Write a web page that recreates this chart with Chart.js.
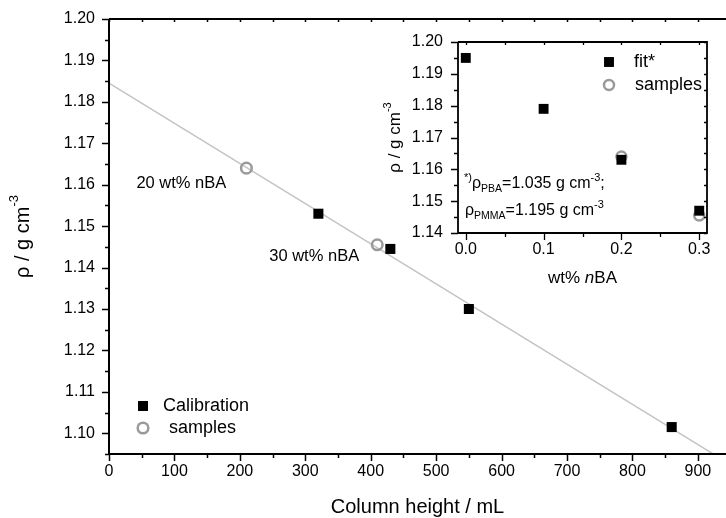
<!DOCTYPE html>
<html>
<head>
<meta charset="utf-8">
<script src="https://cdn.jsdelivr.net/npm/chart.js@4.4.1/dist/chart.umd.min.js"></script>
<style>
  body { margin: 0; background: #fff; }
  #wrap { position: relative; width: 726px; height: 518px; overflow: hidden; }
  #main { position: absolute; left: 0; top: 0; }
  #inset { position: absolute; left: 380px; top: 0; }
</style>
</head>
<body>
<div id="wrap">
  <canvas id="main" width="726" height="518"></canvas>
  <canvas id="inset" width="346" height="300"></canvas>
</div>
<script>
const FONT = "'Liberation Sans', Arial, Helvetica, sans-serif";
Chart.defaults.font.family = FONT;
Chart.defaults.color = '#000';

// main plot: density against column height
const heightTicks = [0, 100, 200, 300, 400, 500, 600, 700, 800, 900];
const densityTicks = [1.10, 1.11, 1.12, 1.13, 1.14, 1.15, 1.16, 1.17, 1.18, 1.19, 1.20];
const calibHeight = [320, 430, 550, 860];
const calibDensity = [1.153, 1.1445, 1.130, 1.1015];
const sampleHeight = [210, 410];
const sampleDensity = [1.164, 1.1455];
const sampleLabels = ['20 wt% nBA', '30 wt% nBA'];
const fitIntercept = 1.1845;
const fitSlope = -0.0000969;

// inset: density against nBA weight fraction
const fractionTicks = [0, 0.1, 0.2, 0.3];
const insetDensityTicks = [1.14, 1.15, 1.16, 1.17, 1.18, 1.19, 1.20];
const fitFraction = [0, 0.1, 0.2, 0.3];
const fitDensity = [1.195, 1.179, 1.163, 1.147];
const sampleFraction = [0.2, 0.3];

const HEIGHT_MAX = 943;

const pts = (xs, ys) => xs.map((x, i) => ({ x: x, y: ys[i] }));

// walk every minor step of a scale, flagging the major ones
function eachStep(scale, minor, major, fn) {
  const first = Math.ceil(scale.min / minor - 1e-6);
  for (let i = first; i * minor <= scale.max + 1e-9; i++) {
    const v = i * minor;
    fn(v, Math.abs(v / major - Math.round(v / major)) < 1e-6);
  }
}

// axis lines plus major/minor tick marks (Chart.js has no minor ticks)
const framePlugin = {
  id: 'frame',
  afterDatasetsDraw(chart, args, o) {
    const { ctx, chartArea: a } = chart;
    const xs = chart.scales.x, ys = chart.scales.y;
    ctx.save();
    ctx.strokeStyle = '#000';
    ctx.lineWidth = o.lineWidth;
    ctx.beginPath();
    ctx.moveTo(a.left, a.top);
    ctx.lineTo(a.left, a.bottom);
    ctx.lineTo(a.right, a.bottom);
    if (o.box) {
      ctx.lineTo(a.right, a.top);
      ctx.lineTo(a.left, a.top);
    } else {
      ctx.moveTo(a.left, a.top);
      ctx.lineTo(a.right, a.top);
    }
    ctx.stroke();

    ctx.lineWidth = o.tickWidth;
    ctx.beginPath();
    eachStep(xs, o.xMinor, o.xMajor, (v, major) => {
      const px = Math.round(xs.getPixelForValue(v)) + 0.5;
      ctx.moveTo(px, a.bottom);
      ctx.lineTo(px, a.bottom + (major ? o.majorLen : o.minorLen));
      ctx.moveTo(px, a.top);
      ctx.lineTo(px, a.top + o.innerLen);
    });
    eachStep(ys, o.yMinor, o.yMajor, (v, major) => {
      const py = Math.round(ys.getPixelForValue(v)) + 0.5;
      ctx.moveTo(a.left, py);
      ctx.lineTo(a.left - (major ? o.majorLen : o.minorLen), py);
      if (o.box) {
        ctx.moveTo(a.right, py);
        ctx.lineTo(a.right - o.innerLen, py);
      }
    });
    ctx.stroke();
    ctx.restore();
  }
};

// text made of runs with sub/superscripts; returns total width
function drawRuns(ctx, x, y, runs, measureOnly) {
  let w = 0;
  for (const r of runs) {
    ctx.font = (r.italic ? 'italic ' : '') + r.size + 'px ' + FONT;
    if (!measureOnly) ctx.fillText(r.t, x + w, y + (r.dy || 0));
    w += ctx.measureText(r.t).width;
  }
  return w;
}

function drawRunsCentered(ctx, cx, cy, runs) {
  const w = drawRuns(ctx, 0, 0, runs, true);
  drawRuns(ctx, cx - w / 2, cy, runs);
}

function legendEntry(ctx, ds, x, y, label, textX, size) {
  ctx.save();
  ctx.fillStyle = ds.backgroundColor;
  ctx.strokeStyle = ds.borderColor;
  ctx.lineWidth = ds.borderWidth;
  Chart.helpers.drawPoint(ctx, {
    pointStyle: ds.pointStyle, radius: ds.pointRadius,
    borderWidth: ds.borderWidth, rotation: 0
  }, x, y);
  ctx.restore();
  ctx.font = size + 'px ' + FONT;
  ctx.textAlign = 'left';
  ctx.textBaseline = 'middle';
  ctx.fillStyle = '#000';
  ctx.fillText(label, textX, y);
}

const densityTitle = (size, sup) => [
  { t: 'ρ / g cm', size: size },
  { t: '-3', size: sup, dy: -size * 0.42 }
];

const mainText = {
  id: 'mainText',
  afterDraw(chart) {
    const { ctx, chartArea: a } = chart;
    const xs = chart.scales.x, ys = chart.scales.y;
    const sets = chart.data.datasets;
    ctx.save();
    ctx.fillStyle = '#000';
    ctx.textBaseline = 'middle';
    ctx.textAlign = 'left';

    ctx.font = '20px ' + FONT;
    ctx.textAlign = 'center';
    ctx.fillText('Column height / mL', (a.left + a.right) / 2, 507);
    ctx.textAlign = 'left';

    ctx.save();
    ctx.translate(23, (a.top + a.bottom) / 2);
    ctx.rotate(-Math.PI / 2);
    drawRunsCentered(ctx, 0, 0, densityTitle(20, 13));
    ctx.restore();

    // sample labels, set below-left of each open circle
    const offsets = [[-110, 15], [-108, 12]];
    ctx.font = '16.5px ' + FONT;
    sampleLabels.forEach((txt, i) => {
      const px = xs.getPixelForValue(sampleHeight[i]);
      const py = ys.getPixelForValue(sampleDensity[i]);
      ctx.fillText(txt, px + offsets[i][0], py + offsets[i][1]);
    });

    legendEntry(ctx, sets[0], 143, 406, 'Calibration', 163, 18);
    legendEntry(ctx, sets[1], 143, 428, 'samples', 169, 18);
    ctx.restore();
  }
};

const insetText = {
  id: 'insetText',
  afterDraw(chart) {
    const { ctx, chartArea: a } = chart;
    const sets = chart.data.datasets;
    ctx.save();
    ctx.fillStyle = '#000';
    ctx.textBaseline = 'middle';

    ctx.save();
    ctx.translate(15, (a.top + a.bottom) / 2);
    ctx.rotate(-Math.PI / 2);
    drawRunsCentered(ctx, 0, 0, densityTitle(17, 11));
    ctx.restore();

    drawRunsCentered(ctx, (a.left + a.right) / 2, 278, [
      { t: 'wt% ', size: 17 },
      { t: 'n', size: 17, italic: true },
      { t: 'BA', size: 17 }
    ]);

    ctx.textBaseline = 'alphabetic';
    drawRuns(ctx, a.left + 6, 188, [
      { t: '*)', size: 11, dy: -7 },
      { t: 'ρ', size: 16 },
      { t: 'PBA', size: 10.5, dy: 4 },
      { t: '=1.035 g cm', size: 16 },
      { t: '-3', size: 11, dy: -7 },
      { t: ';', size: 16 }
    ]);
    drawRuns(ctx, a.left + 7, 215, [
      { t: 'ρ', size: 16 },
      { t: 'PMMA', size: 10.5, dy: 4 },
      { t: '=1.195 g cm', size: 16 },
      { t: '-3', size: 11, dy: -7 }
    ]);

    legendEntry(ctx, sets[0], 229, 62, 'fit*', 254, 18);
    legendEntry(ctx, sets[1], 229, 85, 'samples', 255, 18);
    ctx.restore();
  }
};

// pin axis sizes so the plot area lands where it should
const fixSize = (w, h) => s => {
  if (w !== null) s.width = w;
  if (h !== null) s.height = h;
  s.paddingTop = s.paddingBottom = s.paddingLeft = s.paddingRight = 0;
};

const noGrid = { display: false, drawTicks: false };

new Chart(document.getElementById('main'), {
  type: 'scatter',
  data: {
    datasets: [
      {
        label: 'Calibration',
        data: pts(calibHeight, calibDensity),
        pointStyle: 'rect', pointRadius: 7.1,
        backgroundColor: '#000', borderColor: '#000', borderWidth: 0
      },
      {
        label: 'samples',
        data: pts(sampleHeight, sampleDensity),
        pointStyle: 'circle', pointRadius: 5.3,
        backgroundColor: 'rgba(0,0,0,0)', borderColor: '#9a9a9a', borderWidth: 2.5
      },
      {
        label: 'fit',
        data: [
          { x: 0, y: fitIntercept },
          { x: HEIGHT_MAX, y: fitIntercept + fitSlope * HEIGHT_MAX }
        ],
        showLine: true, pointRadius: 0,
        borderColor: '#c4c4c4', borderWidth: 1.5
      }
    ]
  },
  options: {
    responsive: false,
    animation: false,
    events: [],
    layout: { autoPadding: false, padding: { top: 19, right: 0, left: 0, bottom: 0 } },
    plugins: {
      legend: { display: false },
      tooltip: { enabled: false },
      frame: {
        lineWidth: 2, tickWidth: 1.5, majorLen: 7, minorLen: 4, innerLen: 3,
        xMajor: 100, xMinor: 50, yMajor: 0.01, yMinor: 0.005, box: false
      }
    },
    scales: {
      x: {
        type: 'linear', min: 0, max: HEIGHT_MAX,
        grid: noGrid, border: { display: false },
        afterBuildTicks: s => { s.ticks = heightTicks.map(v => ({ value: v })); },
        ticks: { font: { size: 16 }, padding: 8, maxRotation: 0, callback: v => v.toFixed(0) },
        afterFit: fixSize(null, 64)
      },
      y: {
        type: 'linear', min: 1.095, max: 1.20,
        grid: noGrid, border: { display: false },
        afterBuildTicks: s => { s.ticks = densityTicks.map(v => ({ value: v })); },
        ticks: { font: { size: 16 }, padding: 14, callback: v => v.toFixed(2) },
        afterFit: fixSize(109, null)
      }
    }
  },
  plugins: [framePlugin, mainText]
});

new Chart(document.getElementById('inset'), {
  type: 'scatter',
  data: {
    datasets: [
      {
        label: 'fit*',
        data: pts(fitFraction, fitDensity),
        pointStyle: 'rect', pointRadius: 7,
        backgroundColor: '#000', borderColor: '#000', borderWidth: 0
      },
      {
        label: 'samples',
        data: pts(sampleFraction, sampleDensity),
        pointStyle: 'circle', pointRadius: 5,
        backgroundColor: 'rgba(0,0,0,0)', borderColor: '#9a9a9a', borderWidth: 2.5
      }
    ]
  },
  options: {
    responsive: false,
    animation: false,
    events: [],
    layout: { autoPadding: false, padding: { top: 42, right: 19, left: 0, bottom: 0 } },
    plugins: {
      legend: { display: false },
      tooltip: { enabled: false },
      frame: {
        lineWidth: 1.8, tickWidth: 1.3, majorLen: 7, minorLen: 4, innerLen: 3,
        xMajor: 0.1, xMinor: 0.05, yMajor: 0.01, yMinor: 0.005, box: true
      }
    },
    scales: {
      x: {
        type: 'linear', min: -0.01, max: 0.31,
        grid: noGrid, border: { display: false },
        afterBuildTicks: s => { s.ticks = fractionTicks.map(v => ({ value: v })); },
        ticks: { font: { size: 16 }, padding: 7, maxRotation: 0, callback: v => v.toFixed(1) },
        afterFit: fixSize(null, 67)
      },
      y: {
        type: 'linear', min: 1.14, max: 1.20,
        grid: noGrid, border: { display: false },
        afterBuildTicks: s => { s.ticks = insetDensityTicks.map(v => ({ value: v })); },
        ticks: { font: { size: 16 }, padding: 15, callback: v => v.toFixed(2) },
        afterFit: fixSize(78, null)
      }
    }
  },
  plugins: [framePlugin, insetText]
});
</script>
</body>
</html>
